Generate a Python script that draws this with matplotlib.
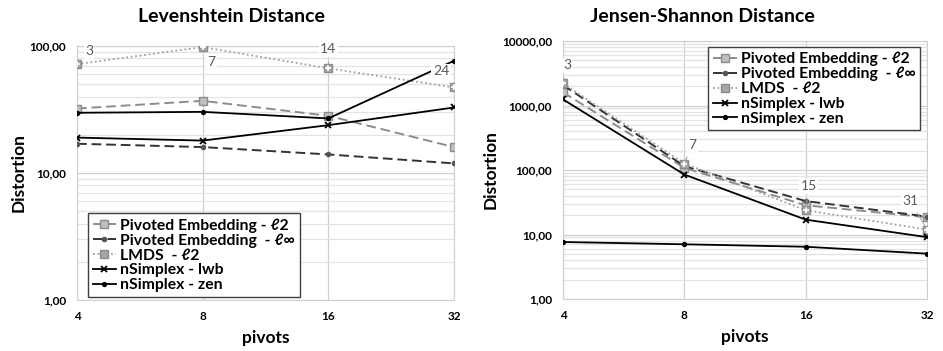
import numpy as np
import matplotlib.pyplot as plt
from matplotlib.ticker import FixedLocator, FuncFormatter, NullFormatter

plt.rcParams['font.family'] = ['Lato', 'DejaVu Sans']

pivots = ['4', '8', '16', '32']
series_names = ['Pivoted Embedding - ℓ2', 'Pivoted Embedding  - ℓ∞',
                'LMDS  - ℓ2', 'nSimplex - lwb', 'nSimplex - zen']

# Levenshtein distance
lev_pe_l2 = [32.2, 37.0, 28.2, 16.0]
lev_pe_linf = [17.0, 16.0, 14.0, 11.9]
lev_lmds = [72.0, 98.0, 66.7, 47.2]
lev_lwb = [19.0, 18.0, 23.8, 32.8]
lev_zen = [29.8, 30.3, 26.9, 76.5]
lev_labels = ['3', '7', '14', '24']

# Jensen-Shannon distance
js_pe_l2 = [1600, 108, 28.4, 18.5]
js_pe_linf = [2075, 115, 33.0, 19.0]
js_lmds = [2200, 126, 23.8, 11.9]
js_lwb = [1245, 85, 17.0, 9.1]
js_zen = [7.65, 7.05, 6.46, 5.05]
js_labels = ['3', '7', '15', '31']

W, H = 943, 351
fig = plt.figure(figsize=(W / 100, H / 100), dpi=100)


def px_axes(x0, x1, ytop, ybot):
    return fig.add_axes([x0 / W, 1 - ybot / H, (x1 - x0) / W, (ybot - ytop) / H])


def draw(ax, pe_l2, pe_linf, lmds, lwb, zen, labels, offsets, ymax):
    x = np.arange(len(pivots))
    ax.set_yscale('log')
    ax.set_xlim(0, len(pivots) - 1)
    ax.set_ylim(1, ymax)
    ax.plot(x, pe_l2, color='#8c8c8c', ls=(0, (5, 2.5)), lw=1.4, marker='s', ms=5.5,
            mfc='#bfbfbf', mec='#8c8c8c', label=series_names[0], zorder=3)
    ax.plot(x, pe_linf, color='#333333', ls=(0, (5, 2.5)), lw=1.4, marker='o', ms=3,
            mfc='#555555', mec='#555555', label=series_names[1], zorder=3)
    ax.plot(x, lmds, color='#a0a0a0', ls=(0, (1, 1.5)), lw=1.3, marker='s', ms=6,
            mfc='#a6a6a6', mec='#8c8c8c', label=series_names[2], zorder=3)
    ax.plot(x, lmds, ls='none', marker='+', ms=4, mew=1.2, color='white', zorder=4)
    ax.plot(x, lwb, color='black', lw=1.3, marker='x', ms=4.5, mew=1.3,
            label=series_names[3], zorder=3)
    ax.plot(x, zen, color='black', lw=1.3, marker='o', ms=2.8,
            label=series_names[4], zorder=3)
    for xi, yi, lab, off in zip(x, lmds, labels, offsets):
        ax.annotate(lab, (xi, yi), xytext=off, textcoords='offset pixels',
                    ha='center', va='center', fontsize=10, color='#595959',
                    bbox=dict(boxstyle='square,pad=0.1', fc='white', ec='none'),
                    arrowprops=dict(arrowstyle='-', color='#a6a6a6', lw=0.8,
                                    shrinkA=4, shrinkB=2), zorder=5)
    majors = [10.0 ** k for k in range(int(np.log10(ymax)) + 1)]
    minors = [m * d for d in majors[:-1] for m in range(2, 10)]
    ax.yaxis.set_major_locator(FixedLocator(majors))
    ax.yaxis.set_minor_locator(FixedLocator(minors))
    ax.yaxis.set_major_formatter(FuncFormatter(lambda v, p: f'{v:.2f}'.replace('.', ',')))
    ax.yaxis.set_minor_formatter(NullFormatter())
    ax.set_xticks(x)
    ax.set_xticklabels(pivots)
    ax.grid(True, which='major', color='#d0d0d0', lw=0.9)
    ax.grid(True, which='minor', axis='y', color='#e3e3e3', lw=0.9)
    ax.set_axisbelow(True)
    for s in ax.spines.values():
        s.set_color('#d0d0d0')
    ax.tick_params(which='both', length=0, labelsize=8.5, pad=8)
    for t in ax.get_xticklabels() + ax.get_yticklabels():
        t.set_fontweight('bold')
    ax.set_xlabel('pivots', fontsize=12.5, fontweight='bold', labelpad=6)
    ax.set_ylabel('Distortion', fontsize=12.5, fontweight='bold', labelpad=2)


legend_kw = dict(borderaxespad=0, prop={'weight': 'bold', 'size': 11.3},
                 handlelength=1.5, handletextpad=0.25, labelspacing=0.05,
                 borderpad=0.3, fancybox=False, edgecolor='#404040', framealpha=1)

ax1 = px_axes(77, 454, 46, 300)
draw(ax1, lev_pe_l2, lev_pe_linf, lev_lmds, lev_lwb, lev_zen, lev_labels,
     [(12, 13), (9, -15), (0, 19), (-13, 16)], 100)
ax1.legend(loc='lower left', bbox_to_anchor=(0.029, 0.012), **legend_kw)
fig.text(231 / W, 1 - 17 / H, 'Levenshtein Distance', ha='center', va='center',
         fontsize=14, fontweight='bold')

ax2 = px_axes(563, 927, 41, 299)
draw(ax2, js_pe_l2, js_pe_linf, js_lmds, js_lwb, js_zen, js_labels,
     [(4, 18), (8, 19), (3, 24), (-17, 29)], 10000)
ax2.legend(loc='upper right', bbox_to_anchor=(0.981, 0.977), **legend_kw)
fig.text(702 / W, 1 - 17 / H, 'Jensen-Shannon Distance', ha='center', va='center',
         fontsize=14, fontweight='bold')

fig.savefig('out.png', dpi=100)
